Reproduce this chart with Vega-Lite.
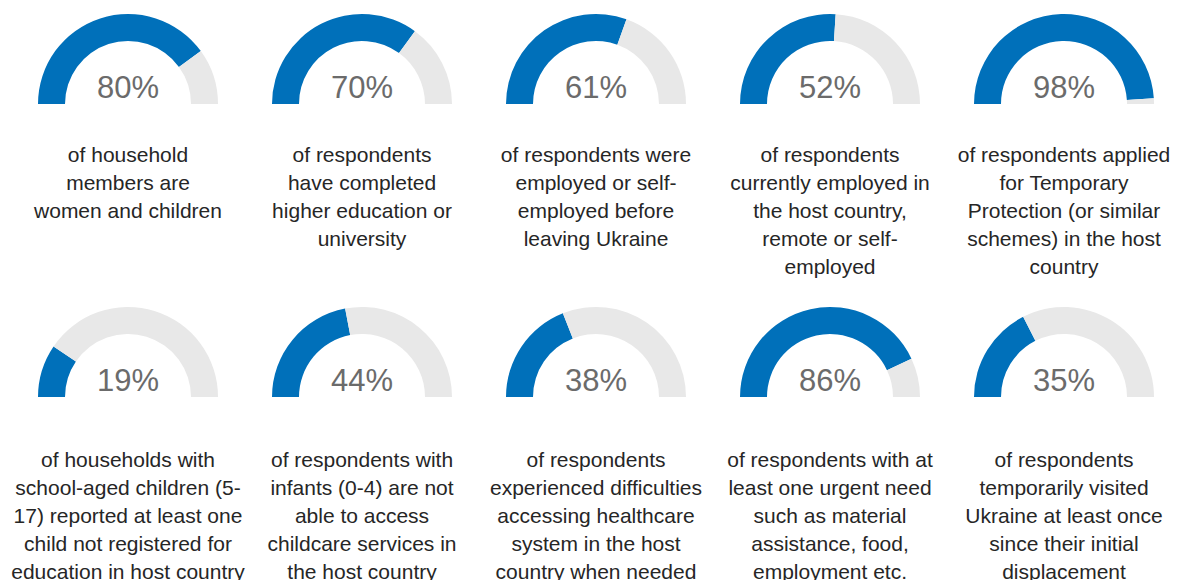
{
  "$schema": "https://vega.github.io/schema/vega-lite/v6.json",
  "padding": {"left": 11, "top": 0, "right": 0, "bottom": 0},
  "background": "white",
  "config": {
    "view": {"stroke": null},
    "font": "Liberation Sans",
    "concat": {"spacing": 0},
    "facet": {"spacing": 0},
    "header": {"labels": false, "title": null, "labelPadding": 0, "titlePadding": 0},
    "headerColumn": {"labels": false, "title": null, "labelPadding": 0, "titlePadding": 0}
  },
  "data": {
    "values": [
      {"row": 1, "idx": 1, "pct": 80, "rest": 20, "label": "80%", "desc": ["of household", "members are", "women and children"]},
      {"row": 1, "idx": 2, "pct": 70, "rest": 30, "label": "70%", "desc": ["of respondents", "have completed", "higher education or", "university"]},
      {"row": 1, "idx": 3, "pct": 61, "rest": 39, "label": "61%", "desc": ["of respondents were", "employed or self-", "employed before", "leaving Ukraine"]},
      {"row": 1, "idx": 4, "pct": 52, "rest": 48, "label": "52%", "desc": ["of respondents", "currently employed in", "the host country,", "remote or self-", "employed"]},
      {"row": 1, "idx": 5, "pct": 98, "rest": 2, "label": "98%", "desc": ["of respondents applied", "for Temporary", "Protection (or similar", "schemes) in the host", "country"]},
      {"row": 2, "idx": 6, "pct": 19, "rest": 81, "label": "19%", "desc": ["of households with", "school-aged children (5-", "17) reported at least one", "child not registered for", "education in host country"]},
      {"row": 2, "idx": 7, "pct": 44, "rest": 56, "label": "44%", "desc": ["of respondents with", "infants (0-4) are not", "able to access", "childcare services in", "the host country"]},
      {"row": 2, "idx": 8, "pct": 38, "rest": 62, "label": "38%", "desc": ["of respondents", "experienced difficulties", "accessing healthcare", "system in the host", "country when needed"]},
      {"row": 2, "idx": 9, "pct": 86, "rest": 14, "label": "86%", "desc": ["of respondents with at", "least one urgent need", "such as material", "assistance, food,", "employment etc."]},
      {"row": 2, "idx": 10, "pct": 35, "rest": 65, "label": "35%", "desc": ["of respondents", "temporarily visited", "Ukraine at least once", "since their initial", "displacement"]}
    ]
  },
  "vconcat": [
    {
      "transform": [{"filter": "datum.row == 1"}],
      "facet": {"column": {"field": "idx", "type": "ordinal", "header": {"labels": false, "title": null, "labelPadding": 0}}},
      "spacing": 0,
      "spec": {
        "width": 234,
        "height": 290,
        "layer": [
          {
            "transform": [{"fold": ["pct", "rest"], "as": ["part", "value"]}],
            "mark": {"type": "arc", "outerRadius": 90, "innerRadius": 63, "y": 104},
            "encoding": {
              "theta": {"field": "value", "type": "quantitative", "stack": true, "scale": {"domain": [0, 100], "range": [-1.5707963, 1.5707963]}},
              "color": {"field": "part", "type": "nominal", "scale": {"domain": ["pct", "rest"], "range": ["#0070BA", "#E8E8E8"]}, "legend": null},
              "order": {"field": "part", "sort": "ascending"}
            }
          },
          {
            "mark": {"type": "text", "y": 98, "fontSize": 31, "color": "#6B6B6B", "baseline": "alphabetic", "align": "center"},
            "encoding": {"text": {"field": "label"}}
          },
          {
            "mark": {"type": "text", "y": 162, "fontSize": 21, "lineHeight": 28, "color": "#262626", "baseline": "alphabetic", "align": "center"},
            "encoding": {"text": {"field": "desc"}}
          }
        ]
      }
    },
    {
      "transform": [{"filter": "datum.row == 2"}],
      "facet": {"column": {"field": "idx", "type": "ordinal", "header": {"labels": false, "title": null, "labelPadding": 0}}},
      "spacing": 0,
      "spec": {
        "width": 234,
        "height": 290,
        "layer": [
          {
            "transform": [{"fold": ["pct", "rest"], "as": ["part", "value"]}],
            "mark": {"type": "arc", "outerRadius": 90, "innerRadius": 63, "y": 107},
            "encoding": {
              "theta": {"field": "value", "type": "quantitative", "stack": true, "scale": {"domain": [0, 100], "range": [-1.5707963, 1.5707963]}},
              "color": {"field": "part", "type": "nominal", "scale": {"domain": ["pct", "rest"], "range": ["#0070BA", "#E8E8E8"]}, "legend": null},
              "order": {"field": "part", "sort": "ascending"}
            }
          },
          {
            "mark": {"type": "text", "y": 101, "fontSize": 31, "color": "#6B6B6B", "baseline": "alphabetic", "align": "center"},
            "encoding": {"text": {"field": "label"}}
          },
          {
            "mark": {"type": "text", "y": 177, "fontSize": 21, "lineHeight": 28, "color": "#262626", "baseline": "alphabetic", "align": "center"},
            "encoding": {"text": {"field": "desc"}}
          }
        ]
      }
    }
  ]
}
